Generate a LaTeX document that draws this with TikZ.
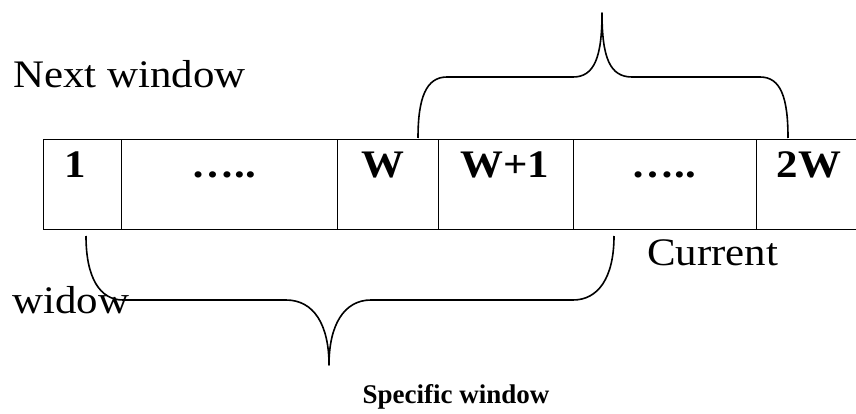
\documentclass[tikz,border=0pt]{standalone}
\usepackage{fontspec}
\setmainfont{Liberation Serif}
% slightly widened glyphs
\newcommand\widetext[1]{\scalebox{1.1}[1]{#1}}
\begin{document}
\begin{tikzpicture}[x=1pt,y=-1pt,
  cellbox/.style={draw, line width=1.4pt, inner sep=0pt, minimum height=90pt, anchor=north west},
  celltext/.style={font=\fontsize{39}{41}\selectfont\bfseries, anchor=base, inner sep=0pt},
  plaintext/.style={font=\fontsize{39}{41}\selectfont, anchor=base west, inner sep=0pt},
  captiontext/.style={font=\fontsize{27}{30}\selectfont\bfseries, anchor=base, inner sep=0pt},
  brace/.style={line width=1.6pt, line join=round}]
\useasboundingbox (0,0) rectangle (856,414);
\clip (0,0) rectangle (856,414);

% the row of slots
\node[cellbox, minimum width=78pt]  (c1) at (43,139)  {};
\node[cellbox, minimum width=216pt] (c2) at (121,139) {};
\node[cellbox, minimum width=101pt] (c3) at (337,139) {};
\node[cellbox, minimum width=135pt] (c4) at (438,139) {};
\node[cellbox, minimum width=183pt] (c5) at (573,139) {};
\node[cellbox, minimum width=106pt] (c6) at (756,139) {};

% slot labels
\node[celltext] (l1) at (75,178)  {\widetext{1}};
\node[celltext] (l2) at (224,178) {\widetext{…..}};
\node[celltext] (l3) at (383,178) {\widetext{W}};
\node[celltext] (l4) at (505,178) {\widetext{W+1}};
\node[celltext] (l5) at (664,178) {\widetext{…..}};
\node[celltext] (l6) at (809,178) {\widetext{2W}};

% side texts
\node[plaintext] (next)    at (13,88)  {\widetext{Next window}};
\node[plaintext] (current) at (647,265) {\widetext{Current}};
\node[plaintext] (widow)   at (12,313) {\widetext{widow}};
\node[captiontext] (spec)  at (456,403) {Specific window};

% brace over slots W .. 2W
\coordinate (ta) at (418,138);
\coordinate (tb) at (788,138);
\coordinate (ttip) at (602,13);
\draw[brace] (ta) .. controls (418,98) and (426,77) .. (447,77) -- (573,77)
  .. controls (594,77) and (602,58) .. (ttip)
  .. controls (602,58) and (610,77) .. (632,77) -- (760,77)
  .. controls (781,77) and (788,98) .. (tb);

% brace under slots 1 .. W+k
\coordinate (ba) at (86,236);
\coordinate (bb) at (614,236);
\coordinate (btip) at (329,365);
\draw[brace] (ba) .. controls (86,278) and (100,300) .. (123,300) -- (286,300)
  .. controls (314,300) and (329,325) .. (btip)
  .. controls (329,325) and (344,300) .. (371,300) -- (573,300)
  .. controls (598,300) and (614,278) .. (bb);
\end{tikzpicture}
\end{document}
